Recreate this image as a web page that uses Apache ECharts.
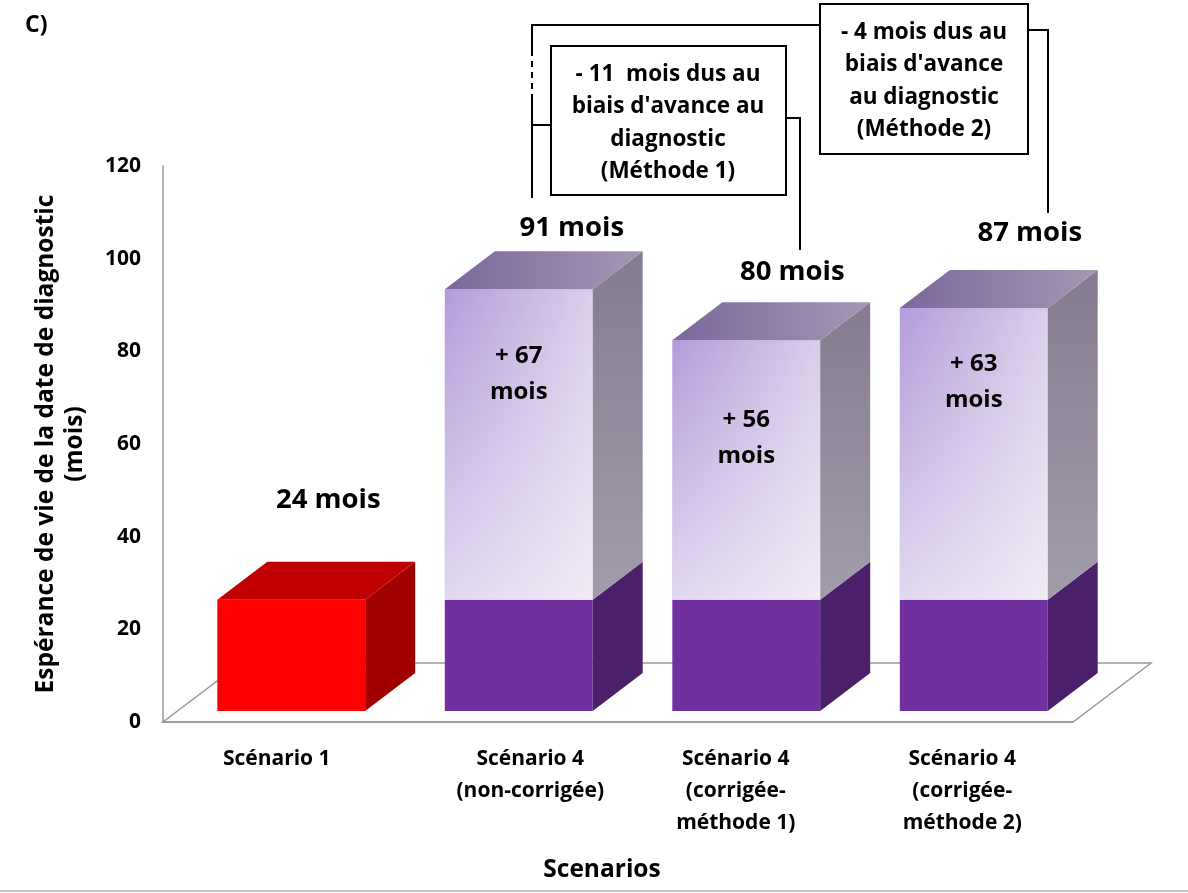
<!DOCTYPE html>
<html>
<head>
<meta charset="utf-8">
<script src="https://cdn.jsdelivr.net/npm/echarts@6/dist/echarts.min.js"></script>
<style>
  html, body { margin: 0; padding: 0; background: #fff; }
  #chart { width: 1188px; height: 893px; }
</style>
</head>
<body>
<div id="chart"></div>
<script>
// ---- data ----
const categories = [
  'Scénario 1',
  'Scénario 4\n(non-corrigée)',
  'Scénario 4\n(corrigée-\nméthode 1)',
  'Scénario 4\n(corrigée-\nméthode 2)'
];
const baseMonths = [24, 24, 24, 24];   // survival already reached without screening
const gainMonths = [0, 67, 56, 63];    // extra months gained
const yTickMax = 120;
const yTickStep = 20;

const totals = baseMonths.map((b, i) => b + gainMonths[i]);

// ---- layout ----
const W = 1188, H = 893;
const FONT = '"Open Sans", "Noto Sans", sans-serif';
const GRID = { left: 163, right: 115, top: 166, bottom: 171 };
const FLOOR_DX = 78, FLOOR_DY = 59;   // floor depth (oblique projection)
const INSET_X = 14.5, INSET_Y = 11;   // bars stand slightly behind the floor front edge
const BOX_DX = 50, BOX_DY = 38;       // bar depth
const BAR_RATIO = 0.65;
// [dx, dy] placement of the total labels (dy above back edge of top face)
const totalLabelPos = [[37, 62], [53, 23], [46, 30], [56, 37]];
// distance below the top of the bar for the "+ N mois" labels
const gainLabelDrop = [0, 85, 98, 74];
// horizontal nudge of the category labels
const categoryNudge = [0, 52, 8, 6];

const COLORS = {
  red:    { front: '#FF0000', top: '#C00000', side: '#A00000' },
  purple: { front: '#7030A0', top: '#5A2685', side: '#4B1F69' }
};
const lilacFront = new echarts.graphic.LinearGradient(0, 0, 1, 0, [
  { offset: 0, color: '#B49BD9' }, { offset: 1, color: '#DACEEA' }
]);
const lilacHaze = new echarts.graphic.LinearGradient(0, 0, 0, 1, [
  { offset: 0, color: 'rgba(255,255,255,0)' }, { offset: 1, color: 'rgba(255,255,255,0.6)' }
]);
const lilacTop = new echarts.graphic.LinearGradient(0, 0, 1, 0, [
  { offset: 0, color: '#7B679C' }, { offset: 1, color: '#A497B3' }
]);
const lilacSide = new echarts.graphic.LinearGradient(0, 0, 0, 1, [
  { offset: 0, color: '#857B91' }, { offset: 1, color: '#A29CAA' }
]);

function box(x0, yBottom, yTop, w, c, withTop) {
  const h = yBottom - yTop;
  const parts = [
    { type: 'rect', shape: { x: x0, y: yTop, width: w, height: h }, style: { fill: c.front } },
    { type: 'polygon', shape: { points: [
      [x0 + w, yBottom], [x0 + w, yTop], [x0 + w + BOX_DX, yTop - BOX_DY], [x0 + w + BOX_DX, yBottom - BOX_DY]
    ] }, style: { fill: c.side } }
  ];
  if (c.haze) {
    parts.push({ type: 'rect', shape: { x: x0, y: yTop, width: w, height: h }, style: { fill: c.haze } });
  }
  if (withTop) {
    parts.push({ type: 'polygon', shape: { points: [
      [x0, yTop], [x0 + w, yTop], [x0 + w + BOX_DX, yTop - BOX_DY], [x0 + BOX_DX, yTop - BOX_DY]
    ] }, style: { fill: c.top } });
  }
  return parts;
}

function labelText(text, x, y, size) {
  return {
    type: 'text', x: x, y: y,
    style: {
      text: text, fill: '#000', font: 'bold ' + size + 'px ' + FONT,
      align: 'center', verticalAlign: 'middle', textAlign: 'center', textVerticalAlign: 'middle',
      lineHeight: 36
    }
  };
}

function renderItem(params, api) {
  const i = api.value(0);
  const base = api.value(1);
  const gain = api.value(2);
  const band = api.size([1, 0])[0];
  const w = band * BAR_RATIO;
  const c0 = api.coord([i, 0]);
  const x0 = c0[0] - w / 2 + INSET_X;
  const yZero = c0[1] - INSET_Y;
  const yBase = api.coord([i, base])[1] - INSET_Y;
  const yTot = api.coord([i, base + gain])[1] - INSET_Y;
  const baseColors = i === 0 ? COLORS.red : COLORS.purple;

  let children = box(x0, yZero, yBase, w, baseColors, gain === 0);
  if (gain > 0) {
    children = children.concat(box(x0, yBase, yTot, w,
      { front: lilacFront, haze: lilacHaze, top: lilacTop, side: lilacSide }, true));
    children.push(labelText('+ ' + gain + '\nmois', x0 + w / 2, yTot + gainLabelDrop[i], 24));
  }
  const lp = totalLabelPos[i];
  children.push(labelText((base + gain) + ' mois', x0 + w / 2 + lp[0], yTot - BOX_DY - lp[1], 27.5));
  return { type: 'group', children: children };
}

// floor of the plot, drawn as a parallelogram under the bars
const floorY = H - GRID.bottom;
const floorL = GRID.left, floorR = W - GRID.right;
const floorPts = [[floorL, floorY], [floorR, floorY], [floorR + FLOOR_DX, floorY - FLOOR_DY], [floorL + FLOOR_DX, floorY - FLOOR_DY]];

const calloutFont = 'bold 22.5px ' + FONT;
function calloutText(text, x, y) {
  return {
    type: 'text', x: x, y: y, z: 10,
    style: { text: text, fill: '#000', font: calloutFont, lineHeight: 32.5,
      align: 'center', verticalAlign: 'middle', textAlign: 'center', textVerticalAlign: 'middle' }
  };
}
const ink = { stroke: '#000', lineWidth: 2, fill: null };

const chart = echarts.init(document.getElementById('chart'), null, { renderer: 'canvas' });
chart.setOption({
  animation: false,
  backgroundColor: '#fff',
  grid: Object.assign({ containLabel: false, outerBoundsMode: 'none' }, GRID),
  xAxis: {
    type: 'category',
    data: categories.map((c, i) => ({ value: c, textStyle: { padding: [0, 0, 0, categoryNudge[i]] } })),
    axisLine: { show: true, lineStyle: { color: '#999', width: 1.5 } },
    axisTick: { show: false },
    axisLabel: { color: '#000', fontFamily: FONT, fontWeight: 'bold', fontSize: 21, lineHeight: 32, margin: 21, interval: 0 },
    name: 'Scenarios',
    nameLocation: 'middle',
    nameGap: 136,
    nameTextStyle: { color: '#000', fontFamily: FONT, fontWeight: 'bold', fontSize: 24.5, padding: [0, 32, 0, 0] }
  },
  yAxis: {
    type: 'value',
    min: 0, max: yTickMax, interval: yTickStep,
    splitLine: { show: false },
    axisLine: { show: true, lineStyle: { color: '#999', width: 1.5 } },
    axisTick: { show: false },
    axisLabel: { color: '#000', fontFamily: FONT, fontWeight: 'bold', fontSize: 21, margin: 22 },
    name: 'Espérance de vie de la date de diagnostic\n(mois)',
    nameLocation: 'middle',
    nameRotate: 90,
    nameGap: 73,
    nameTextStyle: { color: '#000', fontFamily: FONT, fontWeight: 'bold', fontSize: 24.5, lineHeight: 29 }
  },
  series: [{
    type: 'custom',
    renderItem: renderItem,
    clip: false,
    encode: { x: 0, y: 1 },
    data: categories.map((_, i) => [i, baseMonths[i], gainMonths[i]]),
    z: 5
  }],
  graphic: [
    { type: 'polygon', z: 1, silent: true, shape: { points: floorPts }, style: { fill: null, stroke: '#999', lineWidth: 1.5 } },
    { type: 'text', x: 25, y: 25, style: { text: 'C)', fill: '#000', font: 'bold 23px ' + FONT, verticalAlign: 'middle', textVerticalAlign: 'middle' } },

    // method 1 callout
    { type: 'polyline', z: 9, shape: { points: [[532, 50], [532, 25], [820, 25]] }, style: ink },
    { type: 'line', z: 9, shape: { x1: 532, y1: 50, x2: 532, y2: 98 }, style: { stroke: '#000', lineWidth: 2, lineDash: [6, 5] } },
    { type: 'line', z: 9, shape: { x1: 532, y1: 98, x2: 532, y2: 198 }, style: ink },
    { type: 'line', z: 9, shape: { x1: 532, y1: 125, x2: 551, y2: 125 }, style: ink },
    { type: 'polyline', z: 9, shape: { points: [[786, 118], [800, 118], [800, 250]] }, style: ink },
    { type: 'rect', z: 9, shape: { x: 551, y: 46, width: 235, height: 149 }, style: { fill: '#fff', stroke: '#000', lineWidth: 2 } },
    calloutText('- ' + (totals[1] - totals[2]) + '  mois dus au\nbiais d\'avance au\ndiagnostic\n(Méthode 1)', 668, 123),

    // method 2 callout
    { type: 'polyline', z: 9, shape: { points: [[1028, 30], [1048, 30], [1048, 213]] }, style: ink },
    { type: 'rect', z: 9, shape: { x: 820, y: 4, width: 208, height: 150 }, style: { fill: '#fff', stroke: '#000', lineWidth: 2 } },
    calloutText('- ' + (totals[1] - totals[3]) + ' mois dus au\nbiais d\'avance\nau diagnostic\n(Méthode 2)', 924, 81),

    // frame line at the bottom edge
    { type: 'line', shape: { x1: 0, y1: 891, x2: W, y2: 891 }, style: { stroke: '#c4c4c4', lineWidth: 2 } }
  ]
});
</script>
</body>
</html>
